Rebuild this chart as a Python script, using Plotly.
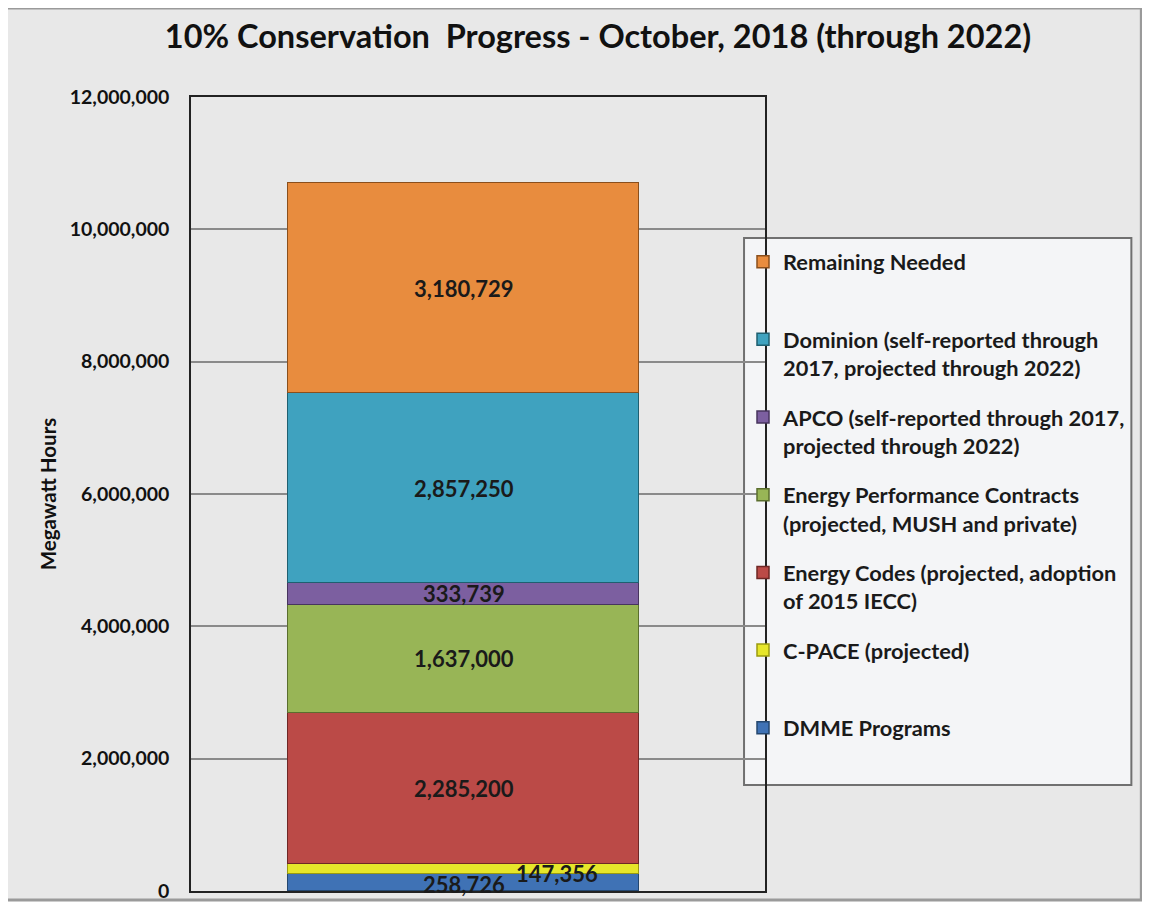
import plotly.graph_objects as go

# Data (bottom to top of stack)
series_names = [
    "DMME Programs",
    "C-PACE (projected)",
    "Energy Codes (projected, adoption<br>of 2015 IECC)",
    "Energy Performance Contracts<br>(projected, MUSH and private)",
    "APCO (self-reported through 2017,<br>projected through 2022)",
    "Dominion (self-reported through<br>2017, projected through 2022)",
    "Remaining Needed",
]
series_values = [258726, 147356, 2285200, 1637000, 333739, 2857250, 3180729]
series_colors = ["#3f72b5", "#e6e62a", "#bb4a47", "#98b556", "#7c5fa0", "#3fa2bf", "#e88c3e"]
series_lines = ["#24476f", "#9a9a10", "#6e2725", "#5a6e2e", "#47345e", "#1f5f70", "#8a4f1c"]
category = [""]
tick_values = [0, 2000000, 4000000, 6000000, 8000000, 10000000, 12000000]
tick_labels = ["0", "2,000,000", "4,000,000", "6,000,000", "8,000,000", "10,000,000", "12,000,000"]

# page has an 8px body margin; figure coords = reference coords - 8
OFF = 8
W, H = 1134, 895
L, R, T, B = 191, 766, 97, 891  # reference pixel coords of plot area

def px(x):
    return (x - L) / (R - L)

def py(y):
    return (B - y) / (B - T)

fig = go.Figure()
n = len(series_names)
for i, (name, val, col, lc) in enumerate(zip(series_names, series_values, series_colors, series_lines)):
    label = name if "<br>" in name else name + "<br> "
    fig.add_trace(go.Bar(
        x=category, y=[val], name="<b>" + label + "</b>",
        marker=dict(color=col, line=dict(color=lc, width=1.5)),
        width=0.612, legendgroup=name, legendrank=n - i,
        hoverinfo="y+name",
    ))

# value labels
cum = 0
shifts = {0: (0, -2), 1: (93, -4)}
for i, val in enumerate(series_values):
    mid = cum + val / 2
    cum += val
    xs, ys = shifts.get(i, (0, 0))
    fig.add_annotation(x=0, y=mid, xref="x", yref="y", text="{:,}".format(val),
                       showarrow=False, xshift=xs, yshift=ys,
                       font=dict(family="Lato", size=22, color="#1a1a1a", weight="bold"))

shapes = [
    # outer frame
    dict(type="rect", xref="paper", yref="paper", layer="below",
         x0=px(6), x1=px(1143), y0=py(900), y1=py(8),
         fillcolor="#e8e8e8", line=dict(color="#9a9a9a", width=3)),
    # legend box
    dict(type="rect", xref="paper", yref="paper", layer="below",
         x0=px(745), x1=px(1133), y0=py(785), y1=py(238),
         fillcolor="#f4f5f7", line=dict(color="#707070", width=2)),
]

fig.update_layout(
    width=W, height=H,
    margin=dict(l=L - OFF, r=W - (R - OFF), t=T - OFF, b=H - (B - OFF)),
    paper_bgcolor="white",
    plot_bgcolor="rgba(0,0,0,0)",
    barmode="stack",
    bargap=0,
    shapes=shapes,
    title=dict(text="<b>10% Conservation  Progress - October, 2018 (through 2022)</b>",
               x=(598 - OFF) / W, xref="container", xanchor="center",
               y=1 - (37 - OFF) / H, yref="container", yanchor="middle",
               font=dict(family="Lato", size=32.5, color="#111111")),
    showlegend=True,
    legend=dict(
        x=px(743), y=py(241), xanchor="left", yanchor="top",
        xref="paper", yref="paper",
        bgcolor="rgba(0,0,0,0)", borderwidth=0,
        traceorder="grouped", tracegroupgap=18, valign="top",
        font=dict(family="Lato", size=21.8, color="#1a1a1a"),
        itemwidth=30,
    ),
    xaxis=dict(range=[-0.475, 0.525], showticklabels=False, showgrid=False,
               showline=True, linecolor="#222222", linewidth=1.5, mirror=True,
               zeroline=False, fixedrange=True, automargin=False),
    yaxis=dict(range=[0, 12000000], tickvals=tick_values, ticktext=tick_labels,
               showgrid=True, gridcolor="#8a8a8a", gridwidth=1.5,
               showline=True, linecolor="#222222", linewidth=1.5, mirror=True,
               zeroline=False, ticks="", ticklabelstandoff=16, automargin=False,
               tickfont=dict(family="Lato", size=19.5, color="#111111", weight="bold"),
               title=dict(text="<b>Megawatt Hours</b>", standoff=8,
                          font=dict(family="Lato", size=20.5, color="#111111")),
               fixedrange=True),
)

fig.write_html("out.html")
